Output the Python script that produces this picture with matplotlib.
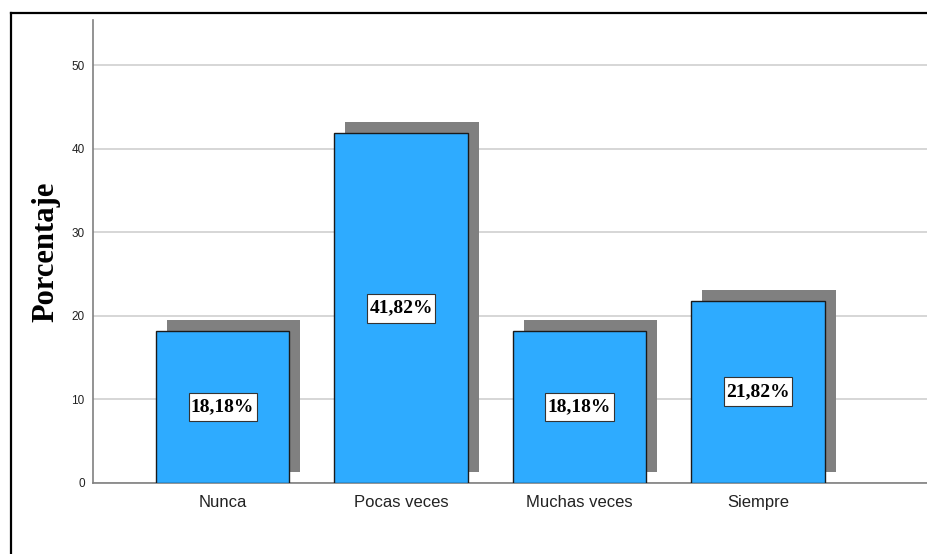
import matplotlib.pyplot as plt
from matplotlib.transforms import offset_copy
from matplotlib.lines import Line2D
from matplotlib.path import Path

categorias = ["Nunca", "Pocas veces", "Muchas veces", "Siempre"]
porcentajes = [18.18, 41.82, 18.18, 21.82]
ticks_y = [0, 10, 20, 30, 40, 50]


def caja(x0, y0, width, height, mutation_size):
    # caja rectangular con mas margen vertical que horizontal
    px = 0.12 * mutation_size
    py = 0.30 * mutation_size
    x1, y1 = x0 - px, y0 - py
    x2, y2 = x0 + width + px, y0 + height + py
    return Path([(x1, y1), (x2, y1), (x2, y2), (x1, y2), (x1, y1)], closed=True)


fig = plt.figure(figsize=(9.27, 5.54), dpi=100)
ax = fig.add_axes([0.1003, 0.1282, 0.8997, 0.8357])

x = list(range(len(categorias)))

# sombra desplazada unos pixeles arriba y a la derecha
sombra = offset_copy(ax.transData, fig=fig, x=11, y=11, units="dots")
ax.bar(x, porcentajes, width=0.75, color="#808080", transform=sombra, zorder=2)
ax.bar(x, porcentajes, width=0.75, color="#2eabff", edgecolor="#1a1a1a",
       linewidth=1, zorder=3)

for xi, v in zip(x, porcentajes):
    ax.text(xi, v / 2, f"{v:.2f}%".replace(".", ","), ha="center", va="center",
            family="Liberation Serif", fontweight="bold", fontsize=14, zorder=4,
            bbox=dict(boxstyle=caja, fc="white", ec="#333333", lw=0.8))

ax.set_xlim(-0.726, 3.947)
ax.set_ylim(0, 55.4)
ax.set_yticks(ticks_y)
ax.set_xticks(x)
ax.set_xticklabels(categorias, family="Liberation Sans", fontsize=12)
for t in ax.get_yticklabels():
    t.set_family("Liberation Sans")
    t.set_fontsize(8.5)
ax.tick_params(length=0, pad=6, colors="#222222")
ax.tick_params(axis="x", pad=9)

ax.yaxis.grid(True, color="#d0d0d0", linewidth=1.2, zorder=0)
ax.set_axisbelow(True)
for s in ["top", "right"]:
    ax.spines[s].set_visible(False)
for s in ["left", "bottom"]:
    ax.spines[s].set_color("#808080")
    ax.spines[s].set_linewidth(1.2)

ax.set_ylabel("Porcentaje", family="Liberation Serif", fontweight="bold",
              fontsize=22, labelpad=8)

# marco exterior
fig.add_artist(Line2D([11 / 927, 11 / 927], [0, 1 - 13 / 554], color="black",
                      linewidth=1.6, transform=fig.transFigure))
fig.add_artist(Line2D([11 / 927, 1], [1 - 13 / 554, 1 - 13 / 554], color="black",
                      linewidth=1.6, transform=fig.transFigure))

fig.savefig("out.png", dpi=100)
